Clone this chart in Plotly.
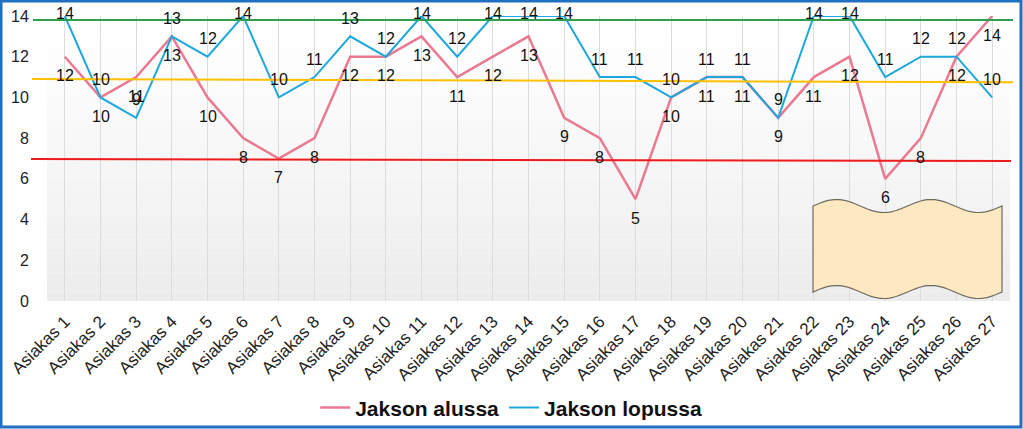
import numpy as np
import plotly.graph_objects as go

categories = [f"Asiakas {i}" for i in range(1, 28)]
alussa = [12, 10, 11, 13, 10, 8, 7, 8, 12, 12, 13, 11, 12, 13, 9, 8, 5, 10, 11, 11, 9, 11, 12, 6, 8, 12, 14]
lopussa = [14, 10, 9, 13, 12, 14, 10, 11, 13, 12, 14, 12, 14, 14, 14, 11, 11, 10, 11, 11, 9, 14, 14, 11, 12, 12, 10]
y_ticks = [0, 2, 4, 6, 8, 10, 12, 14]

# hand-drawn reference lines (level at left end, level at right end)
ref_left = [13.8, 10.9, 6.97]
ref_right = [13.8, 10.75, 6.88]
ref_colors = ["#2E9E4F", "#FFC000", "#EE1C1C"]

PINK = "#EA7A92"
BLUE = "#1EA7DC"

W, H = 1023, 429
L, R, T, B = 47, 13, 16, 128
PW, PH = W - L - R, H - T - B


def px_x(p):
    return (p - L) / PW


def px_y(p):
    return (H - B - p) / PH


fig = go.Figure()
fig.add_trace(go.Scatter(x=categories, y=alussa, mode="lines", name="Jakson alussa",
                         line=dict(color=PINK, width=2.5), cliponaxis=False))
fig.add_trace(go.Scatter(x=categories, y=lopussa, mode="lines", name="Jakson lopussa",
                         line=dict(color=BLUE, width=2), cliponaxis=False))

shapes = []
# gradient background bands
nb = 30
for i in range(nb):
    f = i / (nb - 1)
    g = int(round(255 - 19 * f ** 1.2))
    shapes.append(dict(type="rect", xref="paper", yref="paper", x0=0, x1=1,
                       y0=1 - (i + 1) / nb, y1=1 - i / nb, layer="below",
                       line=dict(width=0), fillcolor=f"rgb({g},{g},{g})"))

# reference lines
xs0 = [px_x(33), px_x(32), px_x(31)]
xs1 = [px_x(1013), px_x(1013), px_x(1011)]
for yl, yr, c, a, b in zip(ref_left, ref_right, ref_colors, xs0, xs1):
    shapes.append(dict(type="line", xref="paper", yref="y", x0=a, x1=b, y0=yl, y1=yr,
                       line=dict(color=c, width=2), layer="above"))

# double-wave banner
def wave(x0, x1, yc, amp, n=80):
    xs = np.linspace(x0, x1, n)
    ys = yc - amp * np.sin((xs - x0) / 94.5 * 2 * np.pi)
    return xs, ys

tx, ty = wave(813, 1002, 206, 6.5)
bx, by = wave(813, 1002, 292, 6.5)
pts = [(px_x(x), px_y(y)) for x, y in zip(tx, ty)] + \
      [(px_x(x), px_y(y)) for x, y in zip(bx[::-1], by[::-1])]
path = "M " + " L ".join(f"{a:.5f},{b:.5f}" for a, b in pts) + " Z"
shapes.append(dict(type="path", xref="paper", yref="paper", path=path,
                   fillcolor="#FDE8C2", line=dict(color="#6E6A5E", width=1.2), layer="above"))

# outer border
shapes.append(dict(type="rect", xref="paper", yref="paper",
                   x0=px_x(1), x1=px_x(W - 2), y0=px_y(1), y1=px_y(H - 2),
                   line=dict(color="#1F6FC2", width=3), fillcolor="rgba(0,0,0,0)", layer="above"))

annotations = []
for c, v in zip(categories, alussa):
    annotations.append(dict(x=c, y=v, text=str(v), showarrow=False, yshift=-19,
                            font=dict(size=16, color="#111"), xref="x", yref="y"))
for c, v in zip(categories, lopussa):
    annotations.append(dict(x=c, y=v, text=str(v), showarrow=False,
                            yshift=3 if v >= 14 else 18,
                            font=dict(size=16, color="#111"), xref="x", yref="y"))

fig.update_layout(
    width=W, height=H, autosize=False,
    margin=dict(l=L, r=R, t=T, b=B, pad=0, autoexpand=False),
    paper_bgcolor="white", plot_bgcolor="white",
    font=dict(family="Liberation Sans, Arial, sans-serif", color="#222"),
    shapes=shapes, annotations=annotations,
    showlegend=True,
    legend=dict(orientation="h", x=0.482, xanchor="center", y=-0.375, yanchor="middle",
                font=dict(size=21, color="#111", family="Liberation Sans, Arial, sans-serif", weight="bold"),
                bgcolor="rgba(0,0,0,0)", itemwidth=30),
    xaxis=dict(type="category", range=[-0.5, 26.5], showgrid=True, gridcolor="#DCDCDC", gridwidth=1,
               tickangle=-45, tickfont=dict(size=17, color="#222"), showline=False, zeroline=False,
               ticks="outside", ticklen=3, tickcolor="rgba(0,0,0,0)", automargin=False, fixedrange=True),
    yaxis=dict(range=[0, 14], tickvals=y_ticks, showgrid=False, zeroline=False, showline=False,
               ticks="outside", ticklen=14, tickcolor="rgba(0,0,0,0)", automargin=False,
               tickfont=dict(size=16, color="#222"), fixedrange=True),
)

fig.write_html("out.html")
